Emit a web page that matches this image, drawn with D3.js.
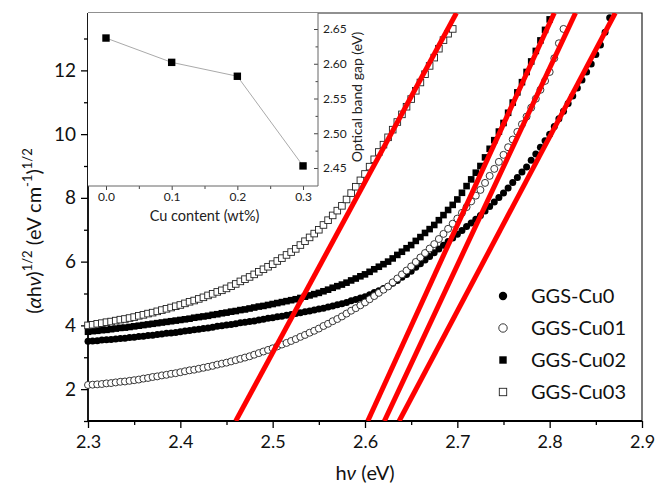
<!DOCTYPE html>
<html>
<head>
<meta charset="utf-8">
<script src="https://cdn.jsdelivr.net/npm/d3@7"></script>
<style>
  html, body { margin: 0; padding: 0; background: #fff; }
  svg { display: block; }
</style>
</head>
<body>
<div id="chart"></div>
<script>
// ── photon energy grid (eV), shared by all four samples ──
const hv = [
  2.300, 2.305, 2.310, 2.315, 2.320, 2.325, 2.330, 2.335, 2.340, 2.345,
  2.350, 2.355, 2.360, 2.365, 2.370, 2.375, 2.380, 2.385, 2.390, 2.395,
  2.400, 2.405, 2.410, 2.415, 2.420, 2.425, 2.430, 2.435, 2.440, 2.445,
  2.450, 2.455, 2.460, 2.465, 2.470, 2.475, 2.480, 2.485, 2.490, 2.495,
  2.500, 2.505, 2.510, 2.515, 2.520, 2.525, 2.530, 2.535, 2.540, 2.545,
  2.550, 2.555, 2.560, 2.565, 2.570, 2.575, 2.580, 2.585, 2.590, 2.595,
  2.600, 2.605, 2.610, 2.615, 2.620, 2.625, 2.630, 2.635, 2.640, 2.645,
  2.650, 2.655, 2.660, 2.665, 2.670, 2.675, 2.680, 2.685, 2.690, 2.695,
  2.700, 2.705, 2.710, 2.715, 2.720, 2.725, 2.730, 2.735, 2.740, 2.745,
  2.750, 2.755, 2.760, 2.765, 2.770, 2.775, 2.780, 2.785, 2.790, 2.795,
  2.800, 2.805, 2.810, 2.815, 2.820, 2.825, 2.830, 2.835, 2.840, 2.845,
  2.850, 2.855, 2.860, 2.865
];

// (αhν)^1/2 for each sample, one value per hv point
const cu0 = [
  3.50, 3.51, 3.52, 3.54, 3.55, 3.56, 3.57, 3.59, 3.60, 3.62,
  3.63, 3.65, 3.66, 3.68, 3.69, 3.71, 3.73, 3.75, 3.76, 3.78,
  3.80, 3.82, 3.84, 3.86, 3.88, 3.90, 3.92, 3.94, 3.97, 3.99,
  4.01, 4.03, 4.05, 4.08, 4.10, 4.12, 4.14, 4.17, 4.19, 4.22,
  4.24, 4.27, 4.29, 4.32, 4.34, 4.37, 4.40, 4.43, 4.45, 4.48,
  4.51, 4.54, 4.58, 4.61, 4.65, 4.68, 4.72, 4.77, 4.81, 4.86,
  4.90, 4.96, 5.03, 5.09, 5.16, 5.22, 5.32, 5.41, 5.51, 5.60,
  5.70, 5.82, 5.93, 6.05, 6.16, 6.28, 6.40, 6.51, 6.63, 6.74,
  6.86, 6.98, 7.10, 7.21, 7.33, 7.45, 7.59, 7.73, 7.87, 8.01,
  8.15, 8.31, 8.48, 8.64, 8.81, 8.97, 9.18, 9.38, 9.59, 9.79,
  10.00, 10.24, 10.48, 10.72, 10.96, 11.20, 11.45, 11.70, 11.95, 12.20,
  12.50, 12.80, 13.20, 13.65
];
const cu01 = [
  2.13, 2.14, 2.15, 2.16, 2.18, 2.19, 2.21, 2.23, 2.24, 2.26,
  2.28, 2.30, 2.33, 2.35, 2.38, 2.40, 2.43, 2.45, 2.48, 2.50,
  2.53, 2.56, 2.59, 2.61, 2.64, 2.67, 2.70, 2.73, 2.77, 2.80,
  2.83, 2.87, 2.91, 2.95, 2.99, 3.03, 3.08, 3.13, 3.18, 3.23,
  3.28, 3.34, 3.40, 3.45, 3.51, 3.57, 3.64, 3.70, 3.77, 3.83,
  3.90, 3.98, 4.05, 4.13, 4.20, 4.28, 4.37, 4.46, 4.54, 4.63,
  4.72, 4.82, 4.92, 5.02, 5.12, 5.22, 5.35, 5.47, 5.60, 5.72,
  5.85, 5.99, 6.13, 6.27, 6.41, 6.55, 6.71, 6.87, 7.03, 7.19,
  7.35, 7.53, 7.71, 7.89, 8.07, 8.25, 8.47, 8.69, 8.91, 9.13,
  9.35, 9.59, 9.83, 10.07, 10.31, 10.55, 10.83, 11.11, 11.39, 11.67,
  11.95, 12.38, 12.85, 13.30
];
const cu02 = [
  3.80, 3.82, 3.83, 3.85, 3.86, 3.88, 3.90, 3.92, 3.93, 3.95,
  3.97, 3.99, 4.01, 4.03, 4.05, 4.07, 4.09, 4.11, 4.13, 4.15,
  4.17, 4.19, 4.21, 4.24, 4.26, 4.28, 4.30, 4.33, 4.35, 4.38,
  4.40, 4.43, 4.45, 4.48, 4.50, 4.53, 4.56, 4.59, 4.61, 4.64,
  4.67, 4.70, 4.73, 4.76, 4.79, 4.82, 4.86, 4.90, 4.94, 4.98,
  5.02, 5.07, 5.12, 5.18, 5.23, 5.28, 5.34, 5.41, 5.47, 5.54,
  5.60, 5.68, 5.76, 5.84, 5.92, 6.00, 6.10, 6.21, 6.31, 6.42,
  6.52, 6.65, 6.77, 6.90, 7.02, 7.15, 7.30, 7.46, 7.62, 7.78,
  7.95, 8.16, 8.37, 8.58, 8.79, 9.00, 9.27, 9.54, 9.81, 10.08,
  10.35, 10.67, 10.99, 11.31, 11.63, 11.95, 12.28, 12.61, 12.94, 13.27,
  13.60
];
const cu03 = [
  4.00, 4.02, 4.05, 4.07, 4.10, 4.12, 4.15, 4.18, 4.20, 4.23,
  4.26, 4.30, 4.33, 4.37, 4.40, 4.44, 4.48, 4.52, 4.56, 4.60,
  4.64, 4.69, 4.74, 4.78, 4.83, 4.88, 4.94, 4.99, 5.05, 5.10,
  5.16, 5.23, 5.30, 5.38, 5.45, 5.52, 5.60, 5.68, 5.76, 5.84,
  5.92, 6.02, 6.11, 6.21, 6.30, 6.40, 6.52, 6.64, 6.76, 6.88,
  7.00, 7.15, 7.30, 7.45, 7.60, 7.75, 7.95, 8.15, 8.35, 8.55,
  8.75, 8.98, 9.21, 9.44, 9.67, 9.90, 10.14, 10.38, 10.62, 10.86,
  11.10, 11.36, 11.62, 11.88, 12.14, 12.40, 12.68, 12.95, 13.15, 13.30
];
const sampleNames = ['GGS-Cu0', 'GGS-Cu01', 'GGS-Cu02', 'GGS-Cu03'];

// linear Tauc fits, [hv, value] at both ends of the drawn segment
const fitCu0 = [[2.637, 1], [2.871, 13.8]];
const fitCu01 = [[2.621, 1], [2.828, 13.8]];
const fitCu02 = [[2.603, 1], [2.805, 13.8]];
const fitCu03 = [[2.460, 1], [2.699, 13.8]];

// inset: band gap vs Cu content
const cuContent = [0.0, 0.1, 0.2, 0.3];
const bandGap = [2.637, 2.602, 2.582, 2.453];

// ticks
const xTicks = [2.3, 2.4, 2.5, 2.6, 2.7, 2.8, 2.9];
const xMinor = [2.35, 2.45, 2.55, 2.65, 2.75, 2.85];
const yTicks = [2, 4, 6, 8, 10, 12];
const yMinor = [1, 3, 5, 7, 9, 11, 13];
const insetXTicks = [0.0, 0.1, 0.2, 0.3];
const insetXMinor = [0.05, 0.15, 0.25];
const insetYTicks = [2.45, 2.50, 2.55, 2.60, 2.65];
const insetYMinor = [2.475, 2.525, 2.575, 2.625];

(function () {
  'use strict';

  const W = 657, H = 487;
  const FONT = "Lato, 'Open Sans', sans-serif";
  const box = { left: 88, right: 642, top: 13, bottom: 421 };
  const ibox = { left: 88, right: 318, top: 13, bottom: 186 };

  const svg = d3.select('#chart').append('svg')
    .attr('width', W).attr('height', H)
    .style('font-family', FONT);

  const x = d3.scaleLinear().domain([2.3, 2.9]).range([box.left, box.right]);
  const y = d3.scaleLinear().domain([1, 13.8]).range([box.bottom, box.top]);

  svg.append('defs').append('clipPath').attr('id', 'plot-clip')
    .append('rect')
    .attr('x', box.left).attr('y', box.top)
    .attr('width', box.right - box.left).attr('height', box.bottom - box.top);

  // ── axes ──
  function styleAxis(g, size) {
    g.select('.domain').remove();
    g.selectAll('.tick line').attr('stroke', '#000').attr('stroke-width', 1.3);
    g.selectAll('.tick text').attr('fill', '#111').style('font-size', size + 'px').style('font-family', FONT);
  }

  svg.append('g').attr('transform', `translate(0,${box.bottom})`)
    .call(d3.axisBottom(x).tickValues(xTicks).tickSize(7).tickPadding(7).tickFormat(d3.format('.1f')))
    .call(g => styleAxis(g, 18));
  svg.append('g').attr('transform', `translate(0,${box.bottom})`)
    .call(d3.axisBottom(x).tickValues(xMinor).tickSize(4).tickFormat(''))
    .call(g => styleAxis(g, 18));

  svg.append('g').attr('transform', `translate(${box.left},0)`)
    .call(d3.axisLeft(y).tickValues(yTicks).tickSize(7).tickPadding(5))
    .call(g => styleAxis(g, 19));
  svg.append('g').attr('transform', `translate(${box.left},0)`)
    .call(d3.axisLeft(y).tickValues(yMinor).tickSize(4).tickFormat(''))
    .call(g => styleAxis(g, 19));

  // frame
  svg.append('path')
    .attr('d', `M${box.left},${box.top}H${box.right}V${box.bottom}`)
    .attr('fill', 'none').attr('stroke', '#222').attr('stroke-width', 1.2);
  svg.append('path')
    .attr('d', `M${box.left},${box.top}V${box.bottom}H${box.right}`)
    .attr('fill', 'none').attr('stroke', '#000').attr('stroke-width', 1.8);

  // axis titles
  const xt = svg.append('text')
    .attr('x', (box.left + box.right) / 2).attr('y', 480)
    .attr('text-anchor', 'middle').style('font-size', '20px').attr('fill', '#111');
  xt.append('tspan').text('h');
  xt.append('tspan').style('font-style', 'italic').text('ν');
  xt.append('tspan').text(' (eV)');

  const yt = svg.append('text')
    .attr('transform', 'translate(41,231) rotate(-90)')
    .attr('text-anchor', 'middle').style('font-size', '20px').attr('fill', '#111');
  yt.append('tspan').text('(');
  yt.append('tspan').style('font-style', 'italic').text('α');
  yt.append('tspan').text('h');
  yt.append('tspan').style('font-style', 'italic').text('ν');
  yt.append('tspan').text(')');
  yt.append('tspan').attr('dy', -9).style('font-size', '13px').text('1/2');
  yt.append('tspan').attr('dy', 9).text(' (eV cm');
  yt.append('tspan').attr('dy', -9).style('font-size', '13px').text('-1');
  yt.append('tspan').attr('dy', 9).text(')');
  yt.append('tspan').attr('dy', -9).style('font-size', '13px').text('1/2');

  // ── data markers ──
  const series = [
    { name: sampleNames[0], values: cu0, shape: 'circle', filled: true },
    { name: sampleNames[1], values: cu01, shape: 'circle', filled: false },
    { name: sampleNames[2], values: cu02, shape: 'square', filled: true },
    { name: sampleNames[3], values: cu03, shape: 'square', filled: false },
  ];

  function marker(g, shape, filled, cx, cy, size) {
    const el = shape === 'circle'
      ? g.append('circle').attr('cx', cx).attr('cy', cy).attr('r', size / 2)
      : g.append('rect').attr('x', cx - size / 2).attr('y', cy - size / 2).attr('width', size).attr('height', size);
    el.attr('fill', filled ? '#000' : '#fff')
      .attr('stroke', filled ? 'none' : '#222')
      .attr('stroke-width', 0.9);
    return el;
  }

  const plot = svg.append('g');
  series.forEach(s => {
    const g = plot.append('g');
    s.values.forEach((v, i) => {
      marker(g, s.shape, s.filled, x(hv[i]), y(v), s.shape === 'circle' ? 7 : 6.6);
    });
  });

  // ── Tauc fits ──
  const line = d3.line().x(d => x(d[0])).y(d => y(d[1]));
  svg.append('g').attr('clip-path', 'url(#plot-clip)')
    .selectAll('path')
    .data([fitCu03, fitCu02, fitCu01, fitCu0])
    .join('path')
    .attr('d', line)
    .attr('fill', 'none')
    .attr('stroke', '#ff0000')
    .attr('stroke-width', 5);

  // ── legend ──
  series.forEach((s, i) => {
    const cy = 296 + i * 32;
    marker(svg, s.shape, s.filled, 503, cy, s.shape === 'circle' ? 8.4 : 7.4);
    svg.append('text')
      .attr('x', 531).attr('y', cy).attr('dy', '0.36em')
      .style('font-size', '20px').attr('fill', '#111')
      .text(s.name);
  });

  // ── inset ──
  const ix = d3.scaleLinear().domain([-0.0274, 0.3228]).range([ibox.left, ibox.right]);
  const iy = d3.scaleLinear().domain([2.45, 2.65]).range([168, 29]);
  const inset = svg.append('g');

  inset.append('rect')
    .attr('x', ibox.left).attr('y', ibox.top)
    .attr('width', ibox.right - ibox.left).attr('height', ibox.bottom - ibox.top)
    .attr('fill', '#fff');

  function styleInset(g) {
    g.select('.domain').remove();
    g.selectAll('.tick line').attr('stroke', '#444').attr('stroke-width', 1);
    g.selectAll('.tick text').attr('fill', '#222').style('font-size', '12px').style('font-family', FONT);
  }

  inset.append('g').attr('transform', `translate(0,${ibox.bottom})`)
    .call(d3.axisBottom(ix).tickValues(insetXTicks).tickSize(4).tickPadding(2).tickFormat(d3.format('.1f')))
    .call(styleInset);
  inset.append('g').attr('transform', `translate(0,${ibox.bottom})`)
    .call(d3.axisBottom(ix).tickValues(insetXMinor).tickSize(3).tickFormat(''))
    .call(styleInset);
  inset.append('g').attr('transform', `translate(${ibox.right},0)`)
    .call(d3.axisRight(iy).tickValues(insetYTicks).tickSize(-4).tickPadding(5).tickFormat(d3.format('.2f')))
    .call(styleInset);
  inset.append('g').attr('transform', `translate(${ibox.right},0)`)
    .call(d3.axisRight(iy).tickValues(insetYMinor).tickSize(-2.5).tickFormat(''))
    .call(styleInset);

  inset.append('path')
    .attr('d', `M${ibox.left},${ibox.bottom}H${ibox.right}V${ibox.top}`)
    .attr('fill', 'none').attr('stroke', '#666').attr('stroke-width', 1);

  inset.append('path')
    .datum(cuContent.map((c, i) => [c, bandGap[i]]))
    .attr('d', d3.line().x(d => ix(d[0])).y(d => iy(d[1])))
    .attr('fill', 'none').attr('stroke', '#aaa').attr('stroke-width', 1);

  cuContent.forEach((c, i) => {
    marker(inset, 'square', true, ix(c), iy(bandGap[i]), 7.4);
  });

  inset.append('text')
    .attr('x', ix(0.15)).attr('y', 221)
    .attr('text-anchor', 'middle').style('font-size', '14.5px').attr('fill', '#222')
    .text('Cu content (wt%)');
  inset.append('text')
    .attr('transform', 'translate(362,97) rotate(-90)')
    .attr('text-anchor', 'middle').style('font-size', '14px').attr('fill', '#222')
    .text('Optical band gap (eV)');
})();
</script>
</body>
</html>
